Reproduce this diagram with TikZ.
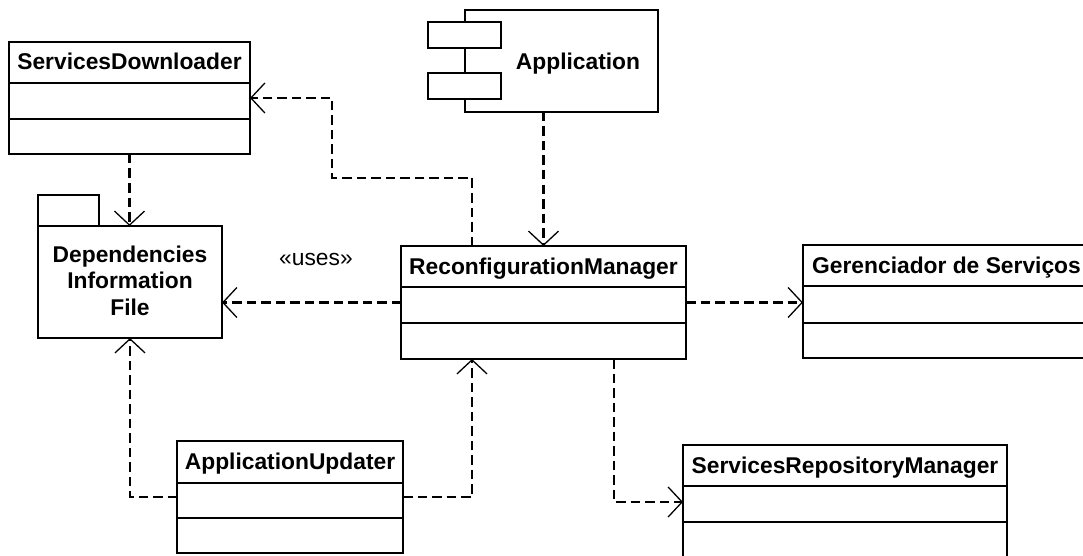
\documentclass[tikz,border=0pt]{standalone}
\usepackage{fontspec}
\setmainfont{Liberation Sans}
\usetikzlibrary{arrows.meta,calc}
\newcommand\umlcls[8]{%
  \node[box,minimum width=#4,minimum height=#5] (#1) at (#2,#3) {};
  \node[ttl,anchor=base] (#1t) at ($(#1.north)+(0,28)$) {#8};
  \draw[divline] ($(#1.north west)+(0,#6)$) -- ($(#1.north east)+(0,#6)$);
  \draw[divline] ($(#1.north west)+(0,#7)$) -- ($(#1.north east)+(0,#7)$);
}
\begin{document}
\begin{tikzpicture}[x=1pt,y=-1pt,
  box/.style={draw,line width=2.4pt,inner sep=0pt,outer sep=0pt,anchor=north west},
  divline/.style={line width=2.4pt},
  thinbox/.style={draw,line width=1.1pt,inner sep=0pt,outer sep=0pt,anchor=north west},
  ttl/.style={font=\fontsize{22.8}{26.5}\selectfont\bfseries,inner sep=0pt},
  lbl/.style={font=\fontsize{22.8}{26.5}\selectfont,inner sep=0pt},
  dep/.style={line width=2.5pt,dash pattern=on 9.5pt off 5pt,
    -{Straight Barb[length=14pt,width=30pt,line width=1.3pt]}}]
\useasboundingbox (0,0) rectangle (1083,556);

% classes
\umlcls{sd}{9}{42}{241}{112}{41}{77}{ServicesDownloader}
\umlcls{rm}{401}{246}{285}{113}{41}{77}{ReconfigurationManager}
\umlcls{ger}{803}{245}{287}{113}{41}{78}{Gerenciador de Serviços}
\umlcls{srm}{683}{445}{324}{125}{41}{77}{ServicesRepositoryManager}
\umlcls{au}{177}{441}{226}{112}{42}{77}{ApplicationUpdater}

% package
\node[box,minimum width=184,minimum height=112] (dif) at (38,226) {};
\draw[divline] (dif.north west) -- ++(0,-31) -- ++(61,0) -- ++(0,31);
\node[ttl,align=center] (dift) at (130,280.5) {Dependencies\\Information\\File};

% component
\node[thinbox,minimum width=193,minimum height=102] (app) at (465,10) {};
\node[thinbox,fill=white,minimum width=73,minimum height=26] (appa) at (428,22) {};
\node[thinbox,fill=white,minimum width=73,minimum height=26] (appb) at (428,73) {};
\node[ttl,anchor=base] (appt) at (578,70) {Application};

% label
\node[lbl,anchor=base] (uses) at (316,265) {«uses»};

% helper coordinates
\coordinate (k1) at (332,178);
\coordinate (k2) at (0,98);
\coordinate (k3) at (614,502);

% dependencies
\draw[dep] (app.south -| rm.north) -- (rm.north);
\draw[dep] ([xshift=-71.5pt]rm.north) |- (k1) |- (k2 -| sd.east);
\draw[dep] (sd.south) -- (sd.south |- dif.north);
\draw[dep] (rm.west) -- (rm.west -| dif.east);
\draw[dep] (rm.east) -- (rm.east -| ger.west);
\draw[dep] (rm.south -| k3) |- (srm.west |- k3);
\draw[dep] (au.west) -| (dif.south);
\draw[dep] (au.east) -| ([xshift=-71.5pt]rm.south);
\end{tikzpicture}
\end{document}
